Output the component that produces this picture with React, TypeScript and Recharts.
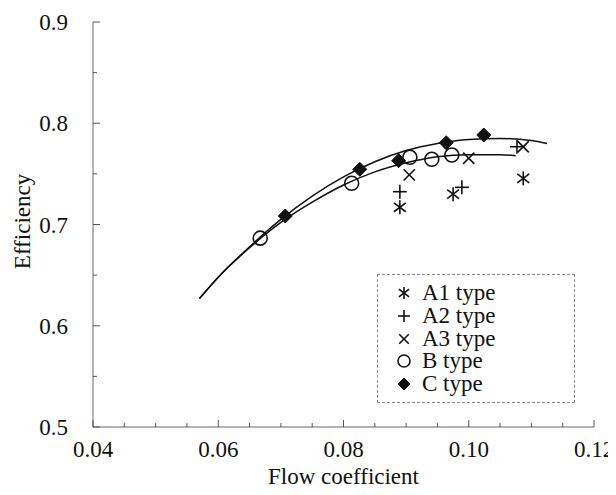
import React from "react";
import { ComposedChart, XAxis, YAxis, Scatter, Line, Label } from "recharts";

const a1Flow = [0.089, 0.0975, 0.1087];
const a1Eff = [0.717, 0.73, 0.7456];
const a2Flow = [0.089, 0.0989, 0.1077];
const a2Eff = [0.7324, 0.7367, 0.7768];
const a3Flow = [0.0905, 0.1, 0.1087];
const a3Eff = [0.749, 0.7654, 0.7768];
const bFlow = [0.0667, 0.0813, 0.0906, 0.0941, 0.0973];
const bEff = [0.6865, 0.7407, 0.7664, 0.7644, 0.7686];
const cFlow = [0.0707, 0.0826, 0.0888, 0.0964, 0.1024];
const cEff = [0.7084, 0.7545, 0.763, 0.7808, 0.7884];

// fitted curves
const upperFlow = [0.057, 0.06, 0.065, 0.07, 0.075, 0.08, 0.085, 0.09, 0.095, 0.1, 0.105, 0.11, 0.1125];
const upperEff = [0.627, 0.648, 0.678, 0.705, 0.728, 0.747, 0.762, 0.773, 0.78, 0.784, 0.785, 0.783, 0.78];
const lowerFlow = [0.057, 0.06, 0.065, 0.07, 0.075, 0.08, 0.085, 0.09, 0.095, 0.1, 0.105, 0.1075];
const lowerEff = [0.627, 0.648, 0.677, 0.702, 0.722, 0.739, 0.752, 0.761, 0.767, 0.769, 0.769, 0.768];

const xTicks = [0.04, 0.045, 0.05, 0.055, 0.06, 0.065, 0.07, 0.075, 0.08, 0.085, 0.09, 0.095, 0.1, 0.105, 0.11, 0.115, 0.12];
const yTicks = [0.5, 0.55, 0.6, 0.65, 0.7, 0.75, 0.8, 0.85, 0.9];

const legendNames = ["A1 type", "A2 type", "A3 type", "B type", "C type"];

const pts = (xs: number[], ys: number[]) => xs.map((x, i) => ({ x, y: ys[i] }));

const FONT = "Liberation Serif, DejaVu Serif, serif";
const INK = "#111";

type Mark = "a1" | "a2" | "a3" | "b" | "c";

function Symbol({ kind, cx, cy, s }: { kind: Mark; cx: number; cy: number; s: number }) {
  const sw = 1.6;
  if (kind === "a1") {
    const d = s * 0.85;
    return (
      <g stroke={INK} strokeWidth={sw}>
        <line x1={cx} y1={cy - s} x2={cx} y2={cy + s} />
        <line x1={cx - d} y1={cy - d * 0.75} x2={cx + d} y2={cy + d * 0.75} />
        <line x1={cx - d} y1={cy + d * 0.75} x2={cx + d} y2={cy - d * 0.75} />
      </g>
    );
  }
  if (kind === "a2") {
    return (
      <g stroke={INK} strokeWidth={sw}>
        <line x1={cx} y1={cy - s} x2={cx} y2={cy + s} />
        <line x1={cx - s} y1={cy} x2={cx + s} y2={cy} />
      </g>
    );
  }
  if (kind === "a3") {
    const d = s * 0.8;
    return (
      <g stroke={INK} strokeWidth={sw}>
        <line x1={cx - d} y1={cy - d} x2={cx + d} y2={cy + d} />
        <line x1={cx - d} y1={cy + d} x2={cx + d} y2={cy - d} />
      </g>
    );
  }
  if (kind === "b") {
    return <circle cx={cx} cy={cy} r={s} fill="none" stroke={INK} strokeWidth={sw} />;
  }
  return (
    <polygon
      points={`${cx},${cy - s} ${cx + s},${cy} ${cx},${cy + s} ${cx - s},${cy}`}
      fill={INK}
      stroke={INK}
    />
  );
}

const shapeOf = (kind: Mark) => (p: any) => <Symbol kind={kind} cx={p.cx} cy={p.cy} s={7} />;

function XTick(props: any) {
  const { x, y, payload } = props;
  const v = payload.value as number;
  const major = Math.round(v * 1000) % 20 === 0;
  return (
    <g>
      <line x1={x} x2={x} y1={y} y2={y - (major ? 7 : 4)} stroke="#555" />
      {major && (
        <text x={x} y={y + 30} textAnchor="middle" style={{ fontFamily: FONT }} fontSize={23} fill={INK}>
          {v.toFixed(2)}
        </text>
      )}
    </g>
  );
}

function YTick(props: any) {
  const { x, y, payload } = props;
  const v = payload.value as number;
  const major = Math.round(v * 100) % 10 === 0;
  return (
    <g>
      <line x1={x} x2={x + (major ? 7 : 4)} y1={y} y2={y} stroke="#555" />
      {major && (
        <text x={x - 25} y={y + 8} textAnchor="end" style={{ fontFamily: FONT }} fontSize={23} fill={INK}>
          {v.toFixed(1)}
        </text>
      )}
    </g>
  );
}

function EffLabel(props: any) {
  const vb = props.viewBox || { x: 0, y: 0, width: 0, height: 0 };
  const cx = vb.x + 14;
  const cy = vb.y + vb.height / 2 - 3;
  return (
    <text
      x={cx}
      y={cy}
      transform={`rotate(-90 ${cx} ${cy})`}
      textAnchor="middle"
      dominantBaseline="central"
      style={{ fontFamily: FONT }}
      fontSize={23}
      fill={INK}
    >
      Efficiency
    </text>
  );
}

function FlowLabel(props: any) {
  const vb = props.viewBox || { x: 0, y: 0, width: 0, height: 0 };
  const cx = vb.x + vb.width / 2;
  return (
    <text x={cx} y={vb.y + 57} textAnchor="middle" style={{ fontFamily: FONT }} fontSize={23} fill={INK}>
      Flow coefficient
    </text>
  );
}

const kinds: Mark[] = ["a1", "a2", "a3", "b", "c"];

export default function App() {
  return (
    <div style={{ position: "relative", width: 608, height: 480, fontFamily: FONT }}>
      <ComposedChart width={608} height={480} margin={{ top: 14, right: 22, bottom: 0, left: 0 }}>
        <XAxis
          dataKey="x"
          type="number"
          domain={[0.04, 0.12]}
          ticks={xTicks}
          interval={0}
          height={61}
          tickSize={0}
          tickMargin={0}
          tickLine={false}
          axisLine={{ stroke: "#666" }}
          tick={<XTick />}
          allowDataOverflow
        >
          <Label content={<FlowLabel />} />
        </XAxis>
        <XAxis xAxisId="top" orientation="top" type="number" domain={[0.04, 0.12]} height={0} tick={false} tickLine={false} axisLine={{ stroke: "#999" }} />
        <YAxis
          dataKey="y"
          type="number"
          domain={[0.5, 0.9]}
          ticks={yTicks}
          interval={0}
          width={85}
          tickSize={0}
          tickMargin={0}
          tickLine={false}
          axisLine={{ stroke: "#666" }}
          tick={<YTick />}
          allowDataOverflow
        >
          <Label content={<EffLabel />} />
        </YAxis>
        <YAxis yAxisId="right" orientation="right" type="number" domain={[0.5, 0.9]} width={0} tick={false} tickLine={false} axisLine={{ stroke: "#999" }} />
        <Line data={pts(upperFlow, upperEff)} dataKey="y" type="monotone" stroke={INK} strokeWidth={1.5} dot={false} isAnimationActive={false} />
        <Line data={pts(lowerFlow, lowerEff)} dataKey="y" type="monotone" stroke={INK} strokeWidth={1.5} dot={false} isAnimationActive={false} />
        <Scatter data={pts(bFlow, bEff)} dataKey="y" shape={shapeOf("b")} isAnimationActive={false} />
        <Scatter data={pts(cFlow, cEff)} dataKey="y" shape={shapeOf("c")} isAnimationActive={false} />
        <Scatter data={pts(a1Flow, a1Eff)} dataKey="y" shape={shapeOf("a1")} isAnimationActive={false} />
        <Scatter data={pts(a2Flow, a2Eff)} dataKey="y" shape={shapeOf("a2")} isAnimationActive={false} />
        <Scatter data={pts(a3Flow, a3Eff)} dataKey="y" shape={shapeOf("a3")} isAnimationActive={false} />
      </ComposedChart>
      <div
        style={{
          position: "absolute",
          left: 369,
          top: 266,
          width: 196,
          height: 127,
          border: "1px dashed #888",
          boxSizing: "content-box",
        }}
      >
        {legendNames.map((name, i) => (
          <div
            key={name}
            style={{
              position: "absolute",
              left: 16,
              top: 7 + i * 22.8,
              height: 22,
              display: "flex",
              alignItems: "center",
              fontFamily: FONT,
              fontSize: 23,
              color: INK,
              whiteSpace: "nowrap",
            }}
          >
            <svg width={20} height={20} style={{ marginRight: 8 }}>
              <Symbol kind={kinds[i]} cx={10} cy={10} s={6} />
            </svg>
            {name}
          </div>
        ))}
      </div>
    </div>
  );
}
